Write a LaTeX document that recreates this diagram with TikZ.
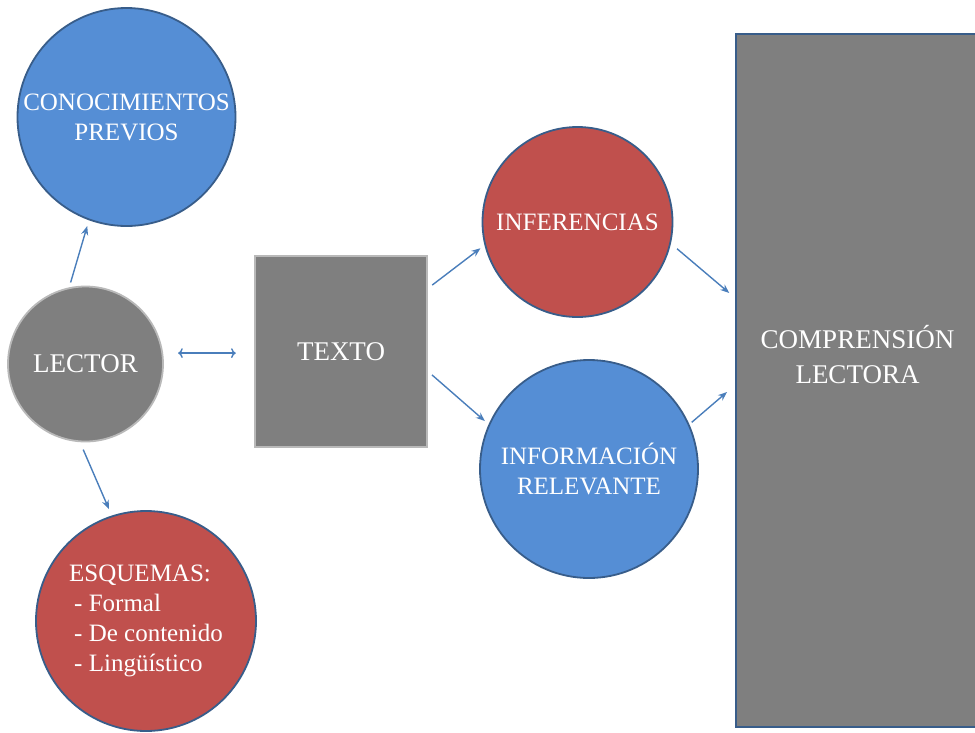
\documentclass[tikz,border=0pt]{standalone}
\usepackage{fontspec}
\setmainfont{Liberation Serif}
\usetikzlibrary{arrows.meta}
\definecolor{fillblue}{RGB}{85,142,213}
\definecolor{fillred}{RGB}{192,80,77}
\definecolor{fillgray}{RGB}{127,127,127}
\definecolor{rimblue}{RGB}{56,93,138}
\definecolor{rimgray}{RGB}{185,185,185}
\definecolor{arrowblue}{RGB}{74,126,187}

\begin{document}
\begin{tikzpicture}[x=1pt,y=-1pt,
  bubble/.style={shape=circle,draw=rimblue,line width=1.8pt,inner sep=0pt,
    text=white,align=center,font=\fontsize{25}{30}\selectfont},
  link/.style={draw=arrowblue,line width=1.4pt,-{Stealth[length=9pt,width=7pt]}}]
  \useasboundingbox (0,0) rectangle (975,732);
  \clip (0,0) rectangle (975,732);

  \node[bubble,fill=fillblue,minimum size=218pt] (conoc) at (126.5,117) {CONOCIMIENTOS\\PREVIOS};
  \node[bubble,fill=fillgray,draw=rimgray,minimum size=155pt,
    font=\fontsize{27}{32}\selectfont] (lector) at (85.5,364) {LECTOR};
  \node[bubble,fill=fillred,minimum size=220pt,align=left] (esq) at (146,621)
    {ESQUEMAS:\\\hspace{5pt}- Formal\\\hspace{5pt}- De contenido\\\hspace{5pt}- Lingüístico};
  \node[shape=rectangle,fill=fillgray,draw=rimgray,line width=2.5pt,
    minimum width=172pt,minimum height=191pt,text=white,
    font=\fontsize{27}{32}\selectfont] (texto) at (341,351.5) {TEXTO};
  \node[bubble,fill=fillred,minimum size=190pt] (infer) at (577.5,222) {INFERENCIAS};
  \node[bubble,fill=fillblue,minimum size=218pt] (info) at (589,469) {INFORMACIÓN\\RELEVANTE};
  \node[shape=rectangle,fill=fillgray,draw=rimblue,line width=2.8pt,
    minimum width=243pt,minimum height=693pt] (comp) at (857.5,380.5) {};
  \node[text=white,align=center,font=\fontsize{27}{35}\selectfont] (comptext)
    at ([yshift=26pt]comp.center) {COMPRENSIÓN\\LECTORA};

  \path (lector.102) edge[link,shorten <=5pt,shorten >=6pt] (conoc.250);
  \path (lector.8) edge[link,<->,shorten <=15pt,shorten >=18pt] (lector.8 -| texto.west);
  \path (lector.266) edge[link,shorten <=8pt,shorten >=7pt] (esq.108);
  \path (texto.36) edge[link,shorten <=5pt,shorten >=5pt] (infer.194);
  \path (texto.-13) edge[link,shorten <=5pt,shorten >=5pt] (info.156);
  \path (infer.-13) edge[link,shorten <=8pt,shorten >=7pt] ([yshift=83pt]comp.west);
  \path (info.24) edge[link,shorten <=3pt,shorten >=10pt] ([yshift=-5pt]comp.west);

\end{tikzpicture}
\end{document}
